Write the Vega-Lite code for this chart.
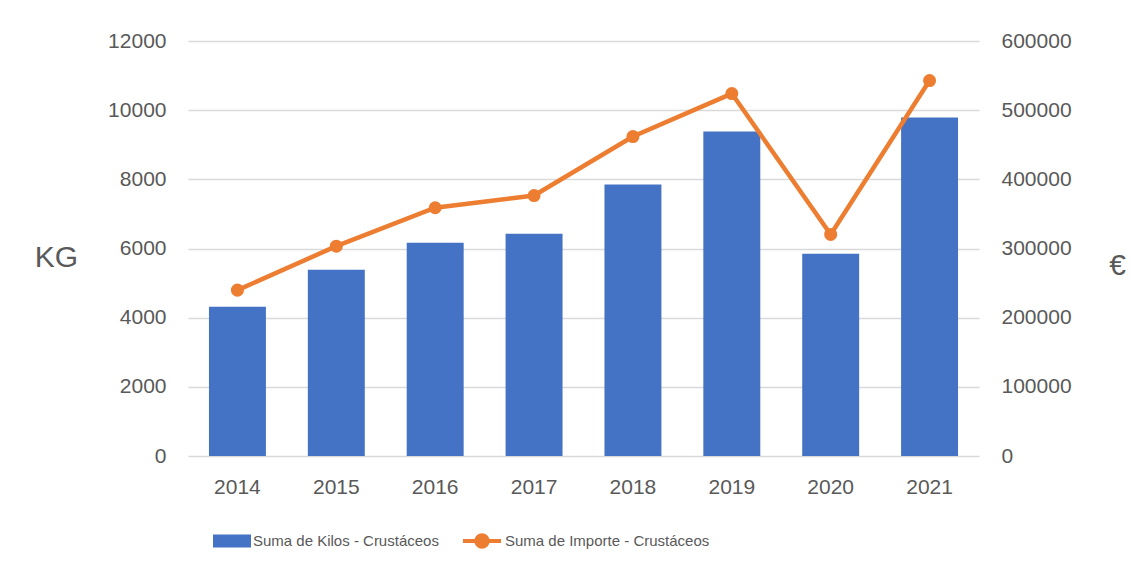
{
  "$schema": "https://vega.github.io/schema/vega-lite/v6.json",
  "width": 791,
  "height": 415,
  "autosize": {"type": "none"},
  "padding": {"left": 188, "top": 41, "right": 153, "bottom": 115},
  "background": "white",
  "config": {"view": {"stroke": null}, "font": "Liberation Sans"},
  "data": {
    "values": [
      {"year": "2014", "kilos": 4317, "importe": 239800},
      {"year": "2015", "kilos": 5386, "importe": 303400},
      {"year": "2016", "kilos": 6166, "importe": 358900},
      {"year": "2017", "kilos": 6426, "importe": 376600},
      {"year": "2018", "kilos": 7851, "importe": 461900},
      {"year": "2019", "kilos": 9382, "importe": 524000},
      {"year": "2020", "kilos": 5848, "importe": 320300},
      {"year": "2021", "kilos": 9787, "importe": 542800}
    ]
  },
  "encoding": {
    "x": {
      "field": "year",
      "type": "ordinal",
      "scale": {"paddingInner": 0.424, "paddingOuter": 0.212},
      "axis": {
        "title": null,
        "labelAngle": 0,
        "domain": false,
        "ticks": false,
        "labelFontSize": 21,
        "labelColor": "#595959",
        "labelPadding": 20
      }
    }
  },
  "layer": [
    {
      "mark": {"type": "bar", "color": "#4472C4"},
      "encoding": {
        "y": {
          "field": "kilos",
          "type": "quantitative",
          "scale": {"domain": [0, 12000]},
          "axis": {
            "title": "KG",
            "titleAngle": 0,
            "titleFontSize": 30,
            "titleFontWeight": "normal",
            "titleColor": "#595959",
            "titleX": -132,
            "titleY": 216,
            "titleAlign": "center",
            "titleBaseline": "middle",
            "values": [0, 2000, 4000, 6000, 8000, 10000, 12000],
            "format": "d",
            "domain": false,
            "ticks": false,
            "labelFontSize": 21,
            "labelColor": "#595959",
            "labelPadding": 22,
            "grid": true,
            "gridColor": "#D9D9D9",
            "gridWidth": 1.5
          }
        },
        "color": {
          "datum": "Suma de Kilos - Crustáceos",
          "scale": {"range": ["#4472C4"]},
          "legend": {
            "orient": "none",
            "legendX": 25,
            "legendY": 481,
            "title": null,
            "padding": 0,
            "symbolType": "M-1,-0.342H1V0.342H-1Z",
            "symbolSize": 1444,
            "symbolStrokeWidth": 0,
            "labelFontSize": 15,
            "labelLimit": 0,
            "labelColor": "#595959",
            "labelOffset": 2
          }
        }
      }
    },
    {
      "mark": {"type": "line", "strokeWidth": 4.5, "point": {"size": 170, "filled": true}},
      "encoding": {
        "y": {
          "field": "importe",
          "type": "quantitative",
          "scale": {"domain": [0, 600000]},
          "axis": {
            "orient": "right",
            "title": "€",
            "titleAngle": 0,
            "titleFontSize": 30,
            "titleFontWeight": "normal",
            "titleColor": "#595959",
            "titleX": 138,
            "titleY": 224,
            "titleAlign": "center",
            "titleBaseline": "middle",
            "values": [0, 100000, 200000, 300000, 400000, 500000, 600000],
            "format": "d",
            "domain": false,
            "ticks": false,
            "grid": false,
            "labelFontSize": 21,
            "labelColor": "#595959",
            "labelPadding": 22
          }
        },
        "color": {
          "datum": "Suma de Importe - Crustáceos",
          "scale": {"range": ["#ED7D31"]},
          "legend": {
            "orient": "none",
            "legendX": 273,
            "legendY": 479,
            "title": null,
            "padding": 0,
            "symbolType": "M-1,0H1M0.3,0A0.3,0.3,0,1,1,-0.3,0A0.3,0.3,0,1,1,0.3,0",
            "symbolSize": 1444,
            "labelFontSize": 15,
            "labelLimit": 0,
            "labelColor": "#595959",
            "labelOffset": 2,
            "encode": {
              "symbols": {
                "update": {
                  "fill": {"value": "#ED7D31"},
                  "stroke": {"value": "#ED7D31"},
                  "strokeWidth": {"value": 4},
                  "opacity": {"value": 1}
                }
              }
            }
          }
        }
      }
    }
  ],
  "resolve": {"scale": {"y": "independent", "color": "independent"}}
}
